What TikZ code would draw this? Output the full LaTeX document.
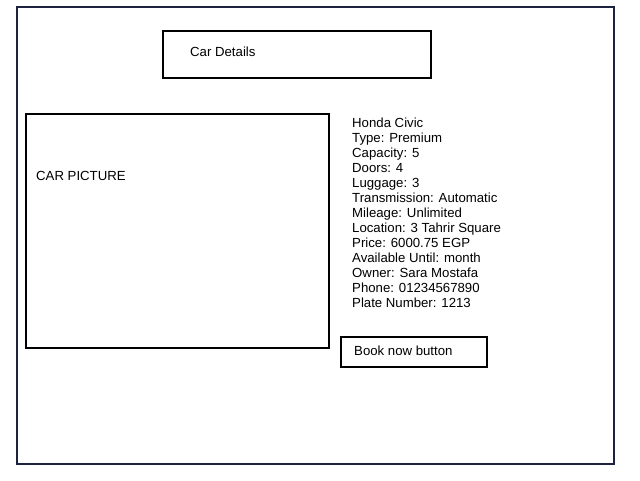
\documentclass[tikz,border=0pt]{standalone}
\usepackage{fontspec}
\setmainfont{Liberation Sans}
\definecolor{frame}{HTML}{1C2340}
\begin{document}
\begin{tikzpicture}[x=1pt,y=-1pt,
  box/.style={draw=black,line width=1.5pt},
  lbl/.style={anchor=west,inner sep=0pt,font=\fontsize{13.2}{15}\selectfont}]
\useasboundingbox (0,0) rectangle (640,480);
\fill[white] (0,0) rectangle (640,480);
\draw[frame,line width=1.8pt] (17,7) rectangle (614,464);
\node[box,minimum width=268pt,minimum height=47pt,anchor=north west] (title) at (162,30) {};
\node[lbl] (titletext) at (190,52) {Car Details};
\node[box,minimum width=303pt,minimum height=234pt,anchor=north west] (pic) at (25,113) {};
\node[lbl] (pictext) at (36,176) {CAR PICTURE};
\node[lbl,anchor=north west,align=left] (info) at (352,118) {Honda Civic\\Type: Premium\\Capacity: 5\\Doors: 4\\Luggage: 3\\Transmission: Automatic\\Mileage: Unlimited\\Location: 3 Tahrir Square\\Price: 6000.75 EGP\\Available Until: month\\Owner: Sara Mostafa\\Phone: 01234567890\\Plate Number: 1213};
\node[box,minimum width=146pt,minimum height=30pt,anchor=north west] (book) at (340,336) {};
\node[lbl] (booktext) at (354,351) {Book now button};
\end{tikzpicture}
\end{document}
